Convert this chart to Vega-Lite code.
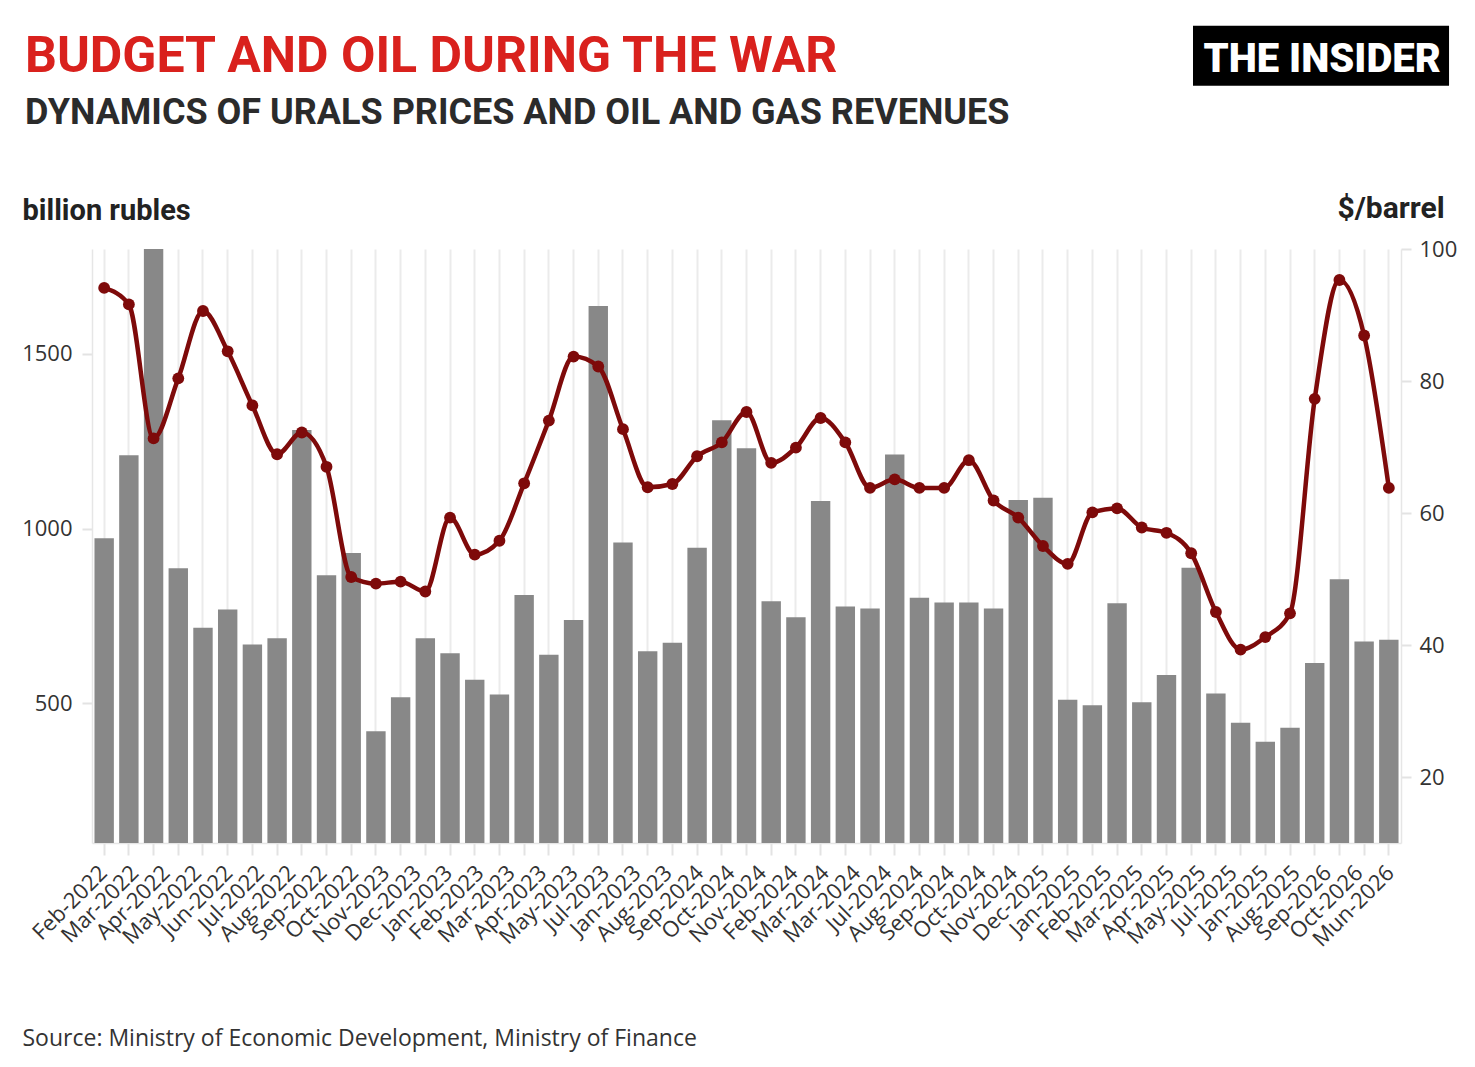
{
  "$schema": "https://vega.github.io/schema/vega-lite/v6.json",
  "width": 1309,
  "height": 594,
  "autosize": {"type": "none"},
  "padding": {"left": 92, "top": 249, "right": 74, "bottom": 224},
  "background": "white",
  "config": {"view": {"stroke": null}, "font": "Open Sans"},
  "title": {
    "text": "BUDGET AND OIL DURING THE WAR",
    "subtitle": "DYNAMICS OF URALS PRICES AND OIL AND GAS REVENUES",
    "anchor": "start",
    "frame": "group",
    "orient": "top",
    "dx": -67,
    "offset": -105,
    "font": "Roboto",
    "fontSize": 50,
    "fontWeight": "bold",
    "color": "#d9211d",
    "subtitleFont": "Roboto",
    "subtitleFontSize": 36,
    "subtitleFontWeight": "bold",
    "subtitleColor": "#2b2b2b",
    "subtitlePadding": 14
  },
  "datasets": {
    "bars": [
      {"month": "2022-02", "revenue": 972, "urals": 94.1},
      {"month": "2022-03", "revenue": 1210, "urals": 91.6},
      {"month": "2022-04", "revenue": 1810, "urals": 71.3},
      {"month": "2022-05", "revenue": 886, "urals": 80.4},
      {"month": "2022-06", "revenue": 716, "urals": 90.6},
      {"month": "2022-07", "revenue": 768, "urals": 84.5},
      {"month": "2022-08", "revenue": 668, "urals": 76.3},
      {"month": "2022-09", "revenue": 686, "urals": 68.9},
      {"month": "2022-10", "revenue": 1282, "urals": 72.2},
      {"month": "2022-11", "revenue": 866, "urals": 67.0},
      {"month": "2022-12", "revenue": 930, "urals": 50.3},
      {"month": "2023-01", "revenue": 420, "urals": 49.3},
      {"month": "2023-02", "revenue": 517, "urals": 49.6},
      {"month": "2023-03", "revenue": 686, "urals": 48.1},
      {"month": "2023-04", "revenue": 643, "urals": 59.3},
      {"month": "2023-05", "revenue": 567, "urals": 53.7},
      {"month": "2023-06", "revenue": 525, "urals": 55.8},
      {"month": "2023-07", "revenue": 810, "urals": 64.5},
      {"month": "2023-08", "revenue": 639, "urals": 74.0},
      {"month": "2023-09", "revenue": 738, "urals": 83.7},
      {"month": "2023-10", "revenue": 1637, "urals": 82.2},
      {"month": "2023-11", "revenue": 960, "urals": 72.7},
      {"month": "2023-12", "revenue": 649, "urals": 63.9},
      {"month": "2024-01", "revenue": 673, "urals": 64.4},
      {"month": "2024-02", "revenue": 945, "urals": 68.6},
      {"month": "2024-03", "revenue": 1310, "urals": 70.7},
      {"month": "2024-04", "revenue": 1230, "urals": 75.3},
      {"month": "2024-05", "revenue": 792, "urals": 67.6},
      {"month": "2024-06", "revenue": 746, "urals": 69.9},
      {"month": "2024-07", "revenue": 1079, "urals": 74.4},
      {"month": "2024-08", "revenue": 777, "urals": 70.7},
      {"month": "2024-09", "revenue": 771, "urals": 63.8},
      {"month": "2024-10", "revenue": 1212, "urals": 65.1},
      {"month": "2024-11", "revenue": 802, "urals": 63.8},
      {"month": "2024-12", "revenue": 788, "urals": 63.8},
      {"month": "2025-01", "revenue": 788, "urals": 68.0},
      {"month": "2025-02", "revenue": 771, "urals": 61.9},
      {"month": "2025-03", "revenue": 1082, "urals": 59.3},
      {"month": "2025-04", "revenue": 1088, "urals": 55.0},
      {"month": "2025-05", "revenue": 510, "urals": 52.3},
      {"month": "2025-06", "revenue": 494, "urals": 60.1},
      {"month": "2025-07", "revenue": 786, "urals": 60.7},
      {"month": "2025-08", "revenue": 503, "urals": 57.8},
      {"month": "2025-09", "revenue": 581, "urals": 57.0},
      {"month": "2025-10", "revenue": 888, "urals": 53.9},
      {"month": "2025-11", "revenue": 528, "urals": 45.0},
      {"month": "2025-12", "revenue": 444, "urals": 39.3},
      {"month": "2026-01", "revenue": 390, "urals": 41.2},
      {"month": "2026-02", "revenue": 430, "urals": 44.8},
      {"month": "2026-03", "revenue": 615, "urals": 77.3},
      {"month": "2026-04", "revenue": 855, "urals": 95.3},
      {"month": "2026-05", "revenue": 677, "urals": 86.9},
      {"month": "2026-06", "revenue": 682, "urals": 63.8}
    ],
    "ticklabels": [
      {"key": "01 Feb-2022"}, {"key": "02 Mar-2022"}, {"key": "03 Apr-2022"}, {"key": "04 May-2022"},
      {"key": "05 Jun-2022"}, {"key": "06 Jul-2022"}, {"key": "07 Aug-2022"}, {"key": "08 Sep-2022"},
      {"key": "09 Oct-2022"}, {"key": "10 Nov-2023"}, {"key": "11 Dec-2023"}, {"key": "12 Jan-2023"},
      {"key": "13 Feb-2023"}, {"key": "14 Mar-2023"}, {"key": "15 Apr-2023"}, {"key": "16 May-2023"},
      {"key": "17 Jul-2023"}, {"key": "18 Jan-2023"}, {"key": "19 Aug-2023"}, {"key": "20 Sep-2024"},
      {"key": "21 Oct-2024"}, {"key": "22 Nov-2024"}, {"key": "23 Feb-2024"}, {"key": "24 Mar-2024"},
      {"key": "25 Mar-2024"}, {"key": "26 Jul-2024"}, {"key": "27 Aug-2024"}, {"key": "28 Sep-2024"},
      {"key": "29 Oct-2024"}, {"key": "30 Nov-2024"}, {"key": "31 Dec-2025"}, {"key": "32 Jan-2025"},
      {"key": "33 Feb-2025"}, {"key": "34 Mar-2025"}, {"key": "35 Apr-2025"}, {"key": "36 May-2025"},
      {"key": "37 Jul-2025"}, {"key": "38 Jan-2025"}, {"key": "39 Aug-2025"}, {"key": "40 Sep-2026"},
      {"key": "41 Oct-2026"}, {"key": "42 Mun-2026"}
    ],
    "brand": [{"name": "THE INSIDER"}]
  },
  "layer": [
    {
      "data": {"name": "bars"},
      "layer": [
        {
          "mark": {"type": "bar", "color": "#888888", "clip": true},
          "encoding": {
            "x": {
              "field": "month",
              "type": "ordinal",
              "scale": {"paddingInner": 0.215, "paddingOuter": 0.1},
              "axis": {
                "orient": "bottom",
                "title": null,
                "labels": false,
                "domain": true,
                "domainColor": "#e6e6e6",
                "domainWidth": 1.5,
                "ticks": true,
                "tickColor": "#e3e3e3",
                "tickSize": 12,
                "tickWidth": 2,
                "grid": true,
                "gridColor": "#ebebeb",
                "gridWidth": 2,
                "bandPosition": 0.5
              }
            },
            "y": {
              "field": "revenue",
              "type": "quantitative",
              "scale": {"domain": [100, 1800], "zero": false, "nice": false},
              "axis": {
                "orient": "left",
                "values": [500, 1000, 1500],
                "format": "d",
                "grid": false,
                "domain": true,
                "domainColor": "#e6e6e6",
                "domainWidth": 1.5,
                "tickColor": "#e3e3e3",
                "tickSize": 10,
                "tickWidth": 2,
                "labelFont": "Open Sans",
                "labelFontSize": 22,
                "labelColor": "#333333",
                "labelPadding": 10,
                "title": "billion rubles",
                "titleAngle": 0,
                "titleAlign": "left",
                "titleAnchor": null,
                "titleBaseline": "alphabetic",
                "titleX": -70,
                "titleY": -30,
                "titleFont": "Roboto",
                "titleFontSize": 29,
                "titleFontWeight": "bold",
                "titleColor": "#222222"
              }
            }
          }
        },
        {
          "mark": {
            "type": "line",
            "interpolate": "monotone",
            "color": "#7e0a0a",
            "strokeWidth": 4.5,
            "point": {"filled": true, "size": 140, "color": "#7e0a0a", "opacity": 1}
          },
          "encoding": {
            "x": {"field": "month", "type": "ordinal"},
            "y": {
              "field": "urals",
              "type": "quantitative",
              "scale": {"domain": [10, 100], "zero": false, "nice": false},
              "axis": {
                "orient": "right",
                "values": [20, 40, 60, 80, 100],
                "grid": false,
                "domain": true,
                "domainColor": "#e6e6e6",
                "domainWidth": 1.5,
                "tickColor": "#e3e3e3",
                "tickSize": 10,
                "tickWidth": 2,
                "labelFont": "Open Sans",
                "labelFontSize": 22,
                "labelColor": "#333333",
                "labelPadding": 8,
                "title": "$/barrel",
                "titleAngle": 0,
                "titleAlign": "left",
                "titleAnchor": null,
                "titleBaseline": "alphabetic",
                "titleX": -64,
                "titleY": -32,
                "titleFont": "Roboto",
                "titleFontSize": 30,
                "titleFontWeight": "bold",
                "titleColor": "#222222"
              }
            }
          }
        }
      ],
      "resolve": {"scale": {"y": "independent"}}
    },
    {
      "data": {"name": "ticklabels"},
      "mark": {"type": "point", "opacity": 0},
      "encoding": {
        "x": {
          "field": "key",
          "type": "ordinal",
          "scale": {"type": "point", "padding": 0.35},
          "axis": {
            "orient": "bottom",
            "labelExpr": "substring(datum.label, 3)",
            "labelAngle": -45,
            "labelAlign": "right",
            "labelBaseline": "middle",
            "labelPadding": 26,
            "labelFont": "Open Sans",
            "labelFontSize": 22,
            "labelColor": "#333333",
            "labelOverlap": false,
            "ticks": false,
            "domain": false,
            "grid": false,
            "title": "Source: Ministry of Economic Development, Ministry of Finance",
            "titleAnchor": null,
            "titleAlign": "left",
            "titleBaseline": "alphabetic",
            "titleX": -70,
            "titleY": 202,
            "titleFont": "Open Sans",
            "titleFontSize": 23,
            "titleFontWeight": "normal",
            "titleColor": "#333333"
          }
        }
      }
    },
    {
      "data": {"name": "brand"},
      "layer": [
        {
          "mark": {"type": "rect", "color": "#000000"},
          "encoding": {
            "x": {"datum": 0.8411, "type": "quantitative", "scale": {"domain": [0, 1], "nice": false}, "axis": null},
            "x2": {"datum": 1.0367},
            "y": {"datum": 1.3759, "type": "quantitative", "scale": {"domain": [0, 1], "nice": false}, "axis": null},
            "y2": {"datum": 1.2749}
          }
        },
        {
          "mark": {
            "type": "text",
            "color": "#ffffff",
            "font": "Roboto",
            "fontSize": 40,
            "fontWeight": 900,
            "align": "center",
            "baseline": "alphabetic",
            "letterSpacing": -2
          },
          "encoding": {
            "x": {"datum": 0.9397, "type": "quantitative"},
            "y": {"datum": 1.2985, "type": "quantitative"},
            "text": {"field": "name"}
          }
        }
      ]
    }
  ],
  "resolve": {"scale": {"x": "independent", "y": "independent"}}
}
